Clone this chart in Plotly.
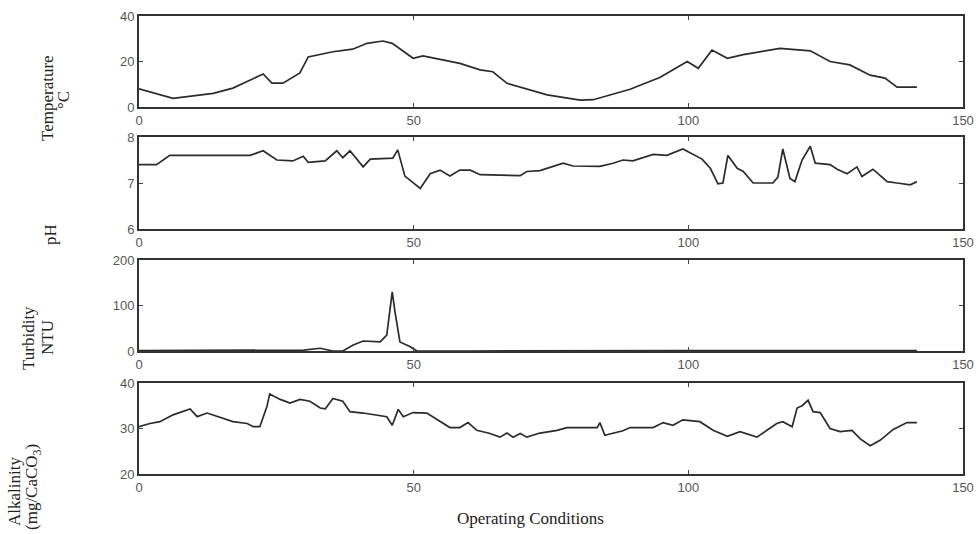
import plotly.graph_objects as go

# ---------------- data ----------------
temp_x = [0, 6.2, 13.5, 17.1, 22.6, 24.2, 26.2, 29.3, 30.8, 35.3, 38.9, 41.5, 44.4, 46.1,
          49.9, 51.7, 58.4, 62.1, 64.4, 67.0, 74.3, 80.3, 82.7, 89.4, 94.8, 99.8, 101.8,
          104.3, 107.1, 110.0, 116.7, 122.2, 125.8, 129.4, 133.1, 135.8, 138.0, 141.6]
temp_y = [8, 3.8, 6, 8.3, 14.5, 10.5, 10.5, 15, 22, 24.3, 25.4, 28, 29, 28,
          21.4, 22.5, 19.2, 16.3, 15.5, 10.4, 5.3, 3, 3.2, 7.8, 13, 20, 17,
          25, 21.4, 23, 25.8, 24.7, 20, 18.5, 14, 12.7, 8.7, 8.7]

ph_x = [0, 3.2, 5.6, 20.2, 22.6, 25.1, 28.0, 29.9, 30.8, 33.9, 36.0, 37.1, 38.4, 40.8,
        42.1, 46.2, 47.1, 48.4, 51.2, 53.0, 54.8, 56.6, 58.4, 60.3, 62.1, 69.4, 70.6,
        73.0, 77.2, 79.0, 83.9, 86.3, 88.1, 89.9, 93.6, 96.1, 99.0, 100.7, 102.5, 104.0,
        105.4, 106.3, 107.2, 108.9, 110.0, 111.8, 115.4, 116.3, 117.2, 118.5, 119.4,
        120.7, 122.2, 123.1, 125.8, 127.1, 128.9, 130.7, 131.6, 133.6, 136.2, 138.0,
        140.4, 141.6]
ph_y = [7.4, 7.4, 7.6, 7.6, 7.7, 7.5, 7.48, 7.58, 7.45, 7.48, 7.7, 7.55, 7.7, 7.35,
        7.52, 7.54, 7.72, 7.15, 6.88, 7.2, 7.28, 7.15, 7.28, 7.28, 7.18, 7.16, 7.25,
        7.27, 7.43, 7.37, 7.36, 7.43, 7.5, 7.48, 7.62, 7.6, 7.74, 7.63, 7.52, 7.32,
        6.98, 7.0, 7.6, 7.32, 7.25, 7.0, 7.0, 7.13, 7.74, 7.1, 7.03,
        7.5, 7.8, 7.43, 7.4, 7.3, 7.2, 7.35, 7.14, 7.3, 7.03, 7.0,
        6.96, 7.03]

turb_x = [0, 10, 20, 30, 33.0, 35.3, 37.1, 39.0, 40.8, 43.9, 45.1, 46.1, 46.6, 47.5,
          49.3, 50.6, 60, 80, 100, 120, 141.6]
turb_y = [1, 1, 2, 2, 6, 0, 0, 13, 22, 20, 35, 130, 86, 20,
          10, 0, 0, 1, 1, 1, 1]

alk_x = [0, 2.0, 3.8, 6.2, 9.3, 10.6, 12.4, 14.7, 17.1, 19.7, 20.8, 22.0, 23.3, 23.8,
         25.7, 27.5, 29.3, 31.1, 33.0, 33.9, 35.3, 37.1, 38.4, 40.8, 43.3, 45.1, 46.1,
         47.2, 48.1, 49.9, 52.4, 54.3, 56.6, 58.4, 59.9, 61.5, 63.9, 65.7, 67.0, 68.1,
         69.4, 70.6, 73.0, 76.1, 77.9, 83.4, 83.9, 84.8, 86.3, 88.1, 89.4, 93.6, 95.4,
         97.2, 99.0, 102.1, 104.5, 107.1, 109.4, 112.5, 114.3, 116.1, 117.2, 118.9,
         119.8, 120.7, 121.8, 122.7, 124.0, 125.8, 127.6, 129.8, 131.3, 133.1, 134.9,
         137.3, 139.8, 141.6]
alk_y = [30.4, 31.1, 31.5, 33, 34.3, 32.6, 33.4, 32.5, 31.5, 31.1, 30.4, 30.4, 34.9, 37.6,
         36.4, 35.6, 36.4, 36, 34.5, 34.3, 36.6, 36, 33.7, 33.4, 33, 32.6, 30.7,
         34.2, 32.6, 33.5, 33.4, 31.9, 30.2, 30.2, 31.3, 29.6, 28.9, 28.1, 29, 28.1,
         28.9, 28.1, 29, 29.6, 30.2, 30.2, 31.3, 28.5, 28.9, 29.5, 30.2, 30.2, 31.3,
         30.7, 31.9, 31.5, 29.6, 28.3, 29.3, 28.1, 29.6, 31.1, 31.5, 30.4,
         34.5, 35, 36.2, 33.7, 33.5, 30, 29.3, 29.6, 27.7, 26.2, 27.4,
         29.8, 31.3, 31.3]

x_ticks = [0, 50, 100, 150]
y_ranges = [[0, 40], [6, 8], [0, 200], [20, 40]]
y_ticks = [[0, 20, 40], [6, 7, 8], [0, 100, 200], [20, 30, 40]]
x_title = "Operating Conditions"

# ---------------- figure ----------------
W, H = 978, 534


def fx(px):
    return px / W


def fy(py):
    return 1 - py / H


fig = go.Figure()
series = [(temp_x, temp_y), (ph_x, ph_y), (turb_x, turb_y), (alk_x, alk_y)]
for i, (xs, ys) in enumerate(series):
    sfx = "" if i == 0 else str(i + 1)
    fig.add_trace(go.Scatter(x=xs, y=ys, mode="lines", xaxis="x" + sfx, yaxis="y" + sfx,
                             line=dict(color="#2b2b2b", width=1.7), showlegend=False,
                             hoverinfo="skip"))

panels_px = [(16, 107), (137, 229), (260, 351), (383, 474)]
x_dom = [fx(139), fx(963)]
tick_font = dict(family="Liberation Sans, Arial, sans-serif", size=13, color="#555555")
layout = dict(width=W, height=H, margin=dict(l=0, r=0, t=0, b=0, autoexpand=False),
              template="none", plot_bgcolor="white", paper_bgcolor="white",
              showlegend=False)
for i, (top, bot) in enumerate(panels_px):
    sfx = "" if i == 0 else str(i + 1)
    layout["xaxis" + sfx] = dict(domain=x_dom, range=[0, 150], tickvals=x_ticks,
                                 anchor="y" + sfx, showgrid=False, zeroline=False,
                                 showline=True, linecolor="#333333", linewidth=2,
                                 mirror="allticks", ticks="inside", ticklen=4,
                                 tickcolor="#444444", tickfont=tick_font,
                                 automargin=False)
    layout["yaxis" + sfx] = dict(domain=[fy(bot), fy(top)], range=y_ranges[i],
                                 tickvals=y_ticks[i], anchor="x" + sfx, showgrid=False,
                                 zeroline=False, showline=True, linecolor="#333333",
                                 linewidth=2, mirror="allticks", ticks="inside",
                                 ticklen=4, tickcolor="#444444", tickfont=tick_font,
                                 automargin=False)
fig.update_layout(**layout)

serif = dict(family="Liberation Serif, Times New Roman, serif", size=17, color="#222222")
labels = [("Temperature", 47, 98), ("°C", 63, 100),
          ("pH", 50, 235),
          ("Turbidity", 28, 338), ("NTU", 47, 338),
          ("Alkalinity", 14, 492), ("(mg/CaCO<sub>3</sub>)", 33, 487)]
for txt, px, py in labels:
    fig.add_annotation(text=txt, x=fx(px), y=fy(py), xref="paper", yref="paper",
                       textangle=-90, showarrow=False, font=serif,
                       xanchor="center", yanchor="middle")
fig.add_annotation(text=x_title, x=fx(530), y=fy(518), xref="paper", yref="paper",
                   showarrow=False, font=serif, xanchor="center", yanchor="middle")

fig.write_html("out.html", config={"displayModeBar": False},
               post_script="document.body.style.margin='0';"
                           "document.body.style.overflow='hidden';")
